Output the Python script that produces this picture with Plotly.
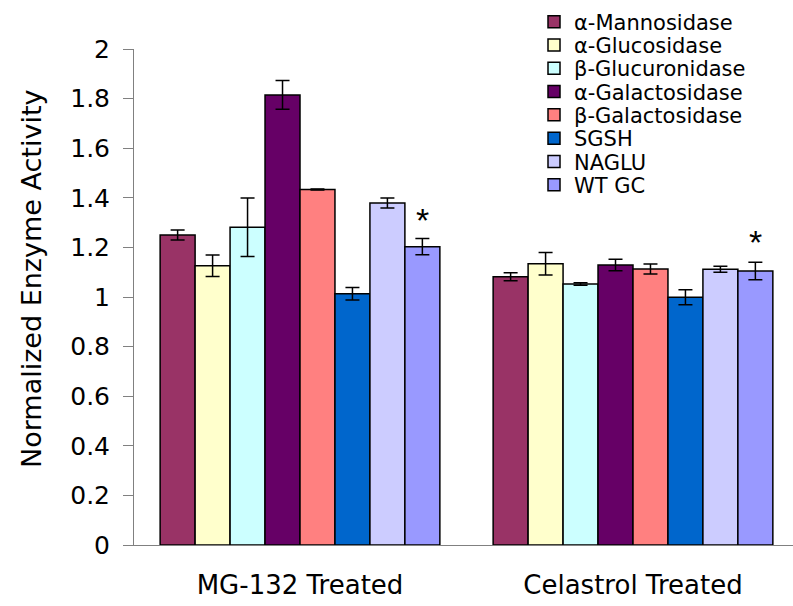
import plotly.graph_objects as go

groups = ["MG-132 Treated", "Celastrol Treated"]
enzymes = ["α-Mannosidase", "α-Glucosidase", "β-Glucuronidase", "α-Galactosidase",
           "β-Galactosidase", "SGSH", "NAGLU", "WT GC"]
colors = ["#993366", "#FFFFCC", "#CCFFFF", "#660066", "#FF8080", "#0066CC", "#CCCCFF", "#9999FF"]
mg132_values = [1.25, 1.126, 1.281, 1.815, 1.433, 1.013, 1.379, 1.203]
mg132_errors = [0.02, 0.043, 0.118, 0.058, 0.002, 0.025, 0.02, 0.033]
celastrol_values = [1.082, 1.134, 1.052, 1.129, 1.113, 0.999, 1.112, 1.105]
celastrol_errors = [0.016, 0.045, 0.005, 0.023, 0.02, 0.03, 0.012, 0.035]
star_y = [1.312, 1.22]
y_ticks = [0, 0.2, 0.4, 0.6, 0.8, 1, 1.2, 1.4, 1.6, 1.8, 2]

FONT = "DejaVu Sans, Arial, sans-serif"
bargap = 0.16

# plot area in pixels
L, R, T, B = 134, 793, 49, 545
PW, PH = R - L, B - T


def px_x(p):
    return (p - L) / PW


def px_y(p):
    return (B - p) / PH


fig = go.Figure()
legend_layouts = {}
for i, name in enumerate(enzymes):
    lname = "legend" if i == 0 else f"legend{i + 1}"
    fig.add_trace(go.Bar(
        x=groups,
        y=[mg132_values[i], celastrol_values[i]],
        name=name,
        legend=lname,
        marker=dict(color=colors[i], line=dict(color="black", width=1.5)),
        error_y=dict(type="data", array=[mg132_errors[i], celastrol_errors[i]],
                     symmetric=True, color="black", thickness=1.5, width=7),
    ))
    legend_layouts[lname] = dict(
        x=px_x(534), y=px_y(22 + 23.3 * i), xanchor="left", yanchor="middle",
        font=dict(size=21, family=FONT, color="black"), bgcolor="rgba(0,0,0,0)",
        borderwidth=0)

# asterisks above the WT GC bar in each group
n = len(enzymes)
bw = (1 - bargap) / n
offset = -(1 - bargap) / 2 + (n - 0.5) * bw
for gi, g in enumerate(groups):
    fig.add_annotation(x=gi + offset, y=star_y[gi], xref="x", yref="y", text="*",
                       showarrow=False,
                       font=dict(size=34, color="black", family="Liberation Sans, Arial"),
                       yanchor="middle")

fig.add_annotation(x=px_x(31), y=px_y(279), xref="paper", yref="paper",
                   text="Normalized Enzyme Activity", showarrow=False, textangle=-90,
                   xanchor="center", yanchor="middle",
                   font=dict(size=27, color="black", family=FONT))

fig.update_layout(
    width=793, height=606,
    margin=dict(l=L, r=793 - R, t=T, b=606 - B, autoexpand=False),
    paper_bgcolor="white", plot_bgcolor="white",
    barmode="group", bargap=bargap, bargroupgap=0,
    font=dict(family=FONT, color="black"),
    showlegend=True,
    xaxis=dict(type="category", range=[-0.4985, 1.4805], showline=True, linecolor="#808080",
               linewidth=1, ticks="", showgrid=False, tickfont=dict(size=26, family=FONT),
               ticklabelstandoff=17, zeroline=False),
    yaxis=dict(range=[0, 2], tickvals=y_ticks, ticktext=[f"{v:g}" for v in y_ticks],
               showline=True, linecolor="#808080", linewidth=1, ticks="outside", ticklen=10,
               tickcolor="#808080", showgrid=False, zeroline=False,
               tickfont=dict(size=25, family=FONT), ticklabelstandoff=8),
    **legend_layouts,
)

fig.write_html("out.html")
